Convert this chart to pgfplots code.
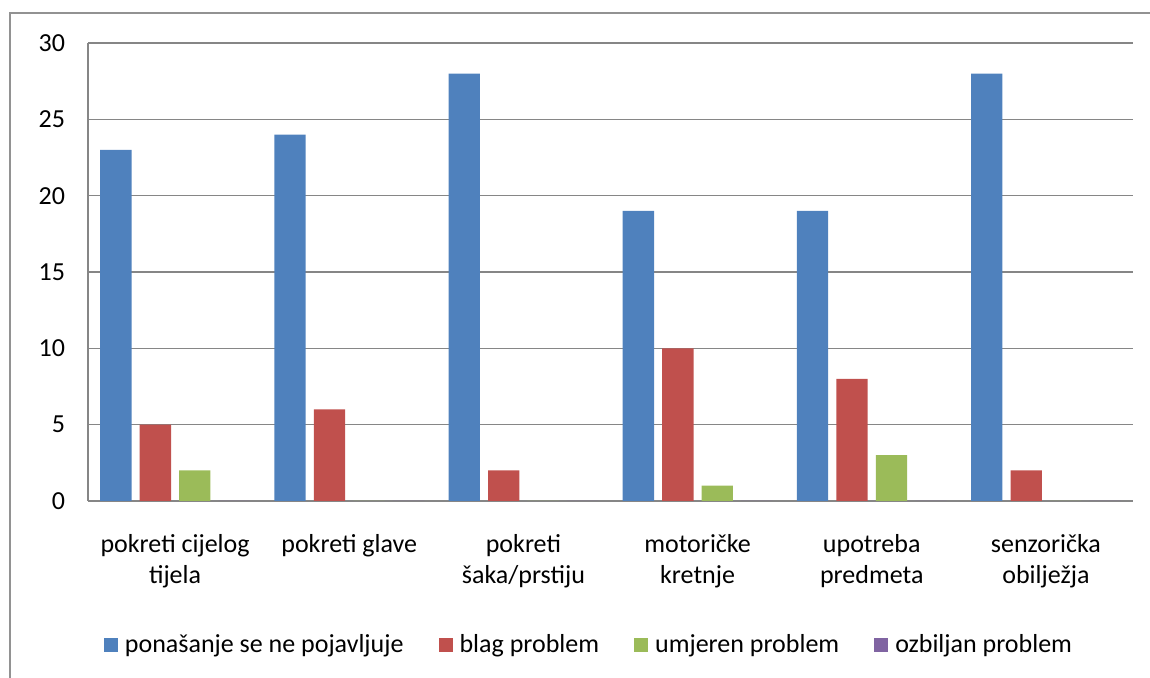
\documentclass[border=0pt]{standalone}
\usepackage{fontspec}
\setmainfont{Carlito}
\usepackage{pgfplots}
\pgfplotsset{compat=1.18}
\definecolor{cblue}{HTML}{4F81BD}
\definecolor{cred}{HTML}{C0504D}
\definecolor{cgreen}{HTML}{9BBB59}
\definecolor{cpurple}{HTML}{8064A2}
\definecolor{cgrid}{HTML}{868686}
\begin{document}
\fontsize{13}{15.5}\selectfont
\begin{tikzpicture}
\path[use as bounding box] (0,0) rectangle (575pt,339pt);
\draw[cgrid!90,line width=1pt] (5pt,-2pt) -- (5pt,332.5pt) -- (580pt,332.5pt);
\begin{axis}[
  at={(44pt,88.5pt)}, anchor=south west,
  scale only axis, width=522.5pt, height=229pt,
  xmin=-0.5, xmax=5.5, ymin=0, ymax=30,
  ytick={0,5,...,30},
  xtick={0,1,2,3,4,5},
  xticklabels={{pokreti cijelog\\tijela},{pokreti glave},{pokreti\\šaka/prstiju},{motoričke\\kretnje},{upotreba\\predmeta},{senzorička\\obilježja}},
  axis x line*=bottom, axis y line*=left,
  axis line style={cgrid, line width=0.8pt, -},
  ymajorgrids, grid style={cgrid, line width=0.8pt},
  major tick length=0pt,
  tick style={draw=none},
  /pgf/number format/assume math mode=true,
  every tick label/.append style={font=\fontsize{13}{15.5}\selectfont},
  xticklabel style={align=center, yshift=-12pt},
  yticklabel style={xshift=-7pt},
  ybar, bar width=0.18,
  legend style={at={(0.4804,-0.3144)}, anchor=center, draw=none, fill=none,
    legend columns=4, font=\fontsize{13}{15.5}\selectfont,
    /tikz/every even column/.append style={column sep=15.5pt},
    /tikz/every odd column/.append style={column sep=1.5pt}},
  legend image code/.code={\fill[#1] (0pt,-3.5pt) rectangle (7pt,3.5pt);},
]
\addplot[fill=cblue, draw=none, bar shift=-0.34] coordinates {(0,23) (1,24) (2,28) (3,19) (4,19) (5,28)};
\addplot[fill=cred, draw=none, bar shift=-0.113] coordinates {(0,5) (1,6) (2,2) (3,10) (4,8) (5,2)};
\addplot[fill=cgreen, draw=none, bar shift=0.113] coordinates {(0,2) (1,0) (2,0) (3,1) (4,3) (5,0)};
\addplot[fill=cpurple, draw=none, bar shift=0.34] coordinates {(0,0) (1,0) (2,0) (3,0) (4,0) (5,0)};
\legend{ponašanje se ne pojavljuje, blag problem, umjeren problem, ozbiljan problem}
\end{axis}
\end{tikzpicture}
\end{document}
